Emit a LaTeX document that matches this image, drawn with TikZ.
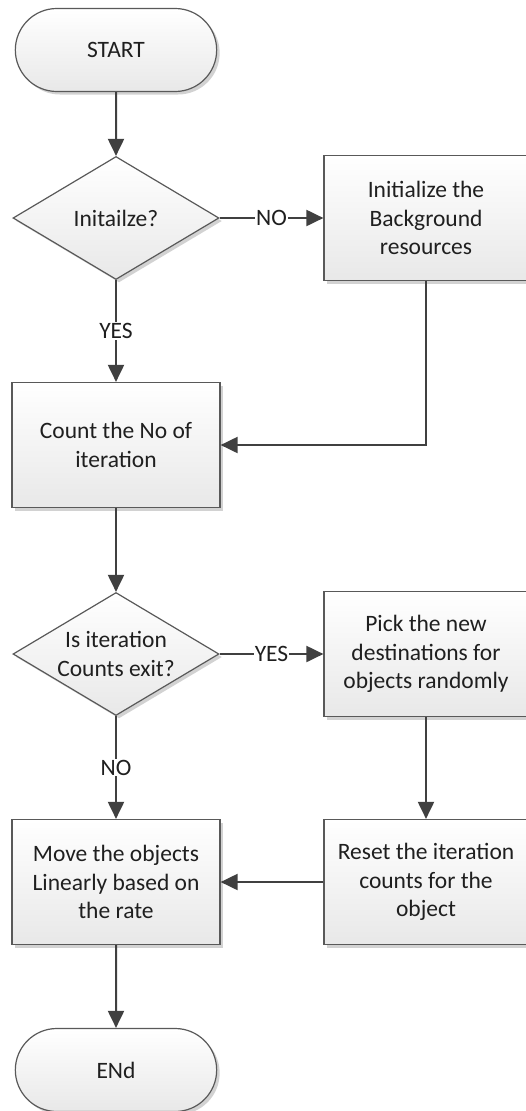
\documentclass[tikz,border=0pt]{standalone}
\usepackage{fontspec}
\setmainfont{Carlito}
\usetikzlibrary{shapes.geometric,shapes.misc,shadows,arrows.meta}

\begin{document}
\begin{tikzpicture}[x=1pt, y=-1pt,
  every node/.style={font=\fontsize{23.5}{28.5}\selectfont, text=black!88},
  fancy/.style={draw=black!65, line width=1.2pt, top color=white, bottom color=black!9,
    drop shadow={shadow xshift=3pt, shadow yshift=-3pt, fill=black!35, opacity=0.5}},
  box/.style={fancy, minimum width=208pt, minimum height=125pt, align=center, inner sep=0pt},
  term/.style={fancy, rounded rectangle, minimum width=208pt, minimum height=83pt},
  decision/.style={fancy, diamond, minimum width=206pt, minimum height=123pt, inner sep=0pt},
  arrow/.style={draw=black!75, line width=2pt, -{Triangle[length=17pt,width=16pt]}},
  lbl/.style={fill=white, inner sep=1pt}]
\useasboundingbox (0,0) rectangle (525,1111);

\node[term] (start) at (116,50) {START};
\node[decision] (init) at (116,218) {};
\node at (init) {Initailze?};
\node[box, minimum width=204pt] (initbg) at (426,218) {Initialize the\\Background\\resources};
\node[box] (count) at (116,445) {Count the No of\\iteration};
\node[decision] (isexit) at (116,654) {};
\node[align=center] at (isexit) {Is iteration\\Counts exit?};
\node[box, minimum width=204pt] (pick) at (426,654) {Pick the new\\destinations for\\objects randomly};
\node[box] (move) at (116,882) {Move the objects\\Linearly based on\\the rate};
\node[box, minimum width=204pt] (reset) at (426,882) {Reset the iteration\\counts for the\\object};
\node[term] (finish) at (116,1070) {ENd};

\draw[arrow] (start) -- (init);
\draw[arrow] (init) -- node[lbl] {NO} (initbg);
\draw[arrow] (init) -- node[lbl] {YES} (count);
\draw[arrow] (initbg) |- (count);
\draw[arrow] (count) -- (isexit);
\draw[arrow] (isexit) -- node[lbl] {YES} (pick);
\draw[arrow] (isexit) -- node[lbl] {NO} (move);
\draw[arrow] (pick) -- (reset);
\draw[arrow] (reset) -- (move);
\draw[arrow] (move) -- (finish);
\end{tikzpicture}
\end{document}
